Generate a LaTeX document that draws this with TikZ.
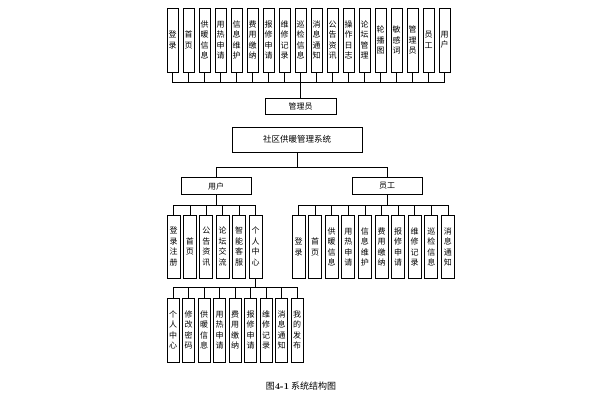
\documentclass[tikz,border=0pt]{standalone}
\usepackage{fontspec}
\newfontfamily\cjk{Noto Sans CJK SC}
\begin{document}
\begin{tikzpicture}[x=1pt,y=-1pt,
  box/.style={draw, line width=0.8pt, inner sep=0pt, align=center,
    font=\cjk\fontsize{8}{10.5}\selectfont},
  vboxA/.style={box, minimum width=11pt, minimum height=64pt},
  vboxB/.style={box, minimum width=13pt, minimum height=63pt},
  vboxC/.style={box, minimum width=12pt, minimum height=64pt},
  hbox/.style={box, minimum width=70pt, minimum height=16.5pt},
  conn/.style={line width=0.8pt}]
\useasboundingbox (0,0) rectangle (603,401);
% top row
\foreach \t [count=\i from 0] in {登\\录,首\\页,供\\暖\\信\\息,用\\热\\申\\请,信\\息\\维\\护,费\\用\\缴\\纳,报\\修\\申\\请,维\\修\\记\\录,巡\\检\\信\\息,消\\息\\通\\知,公\\告\\资\\讯,操\\作\\日\\志,论\\坛\\管\\理,轮\\播\\图,敏\\感\\词,管\\理\\员,员\\工,用\\户}
  \node[vboxA] (t\i) at ({172.5+16*\i},40) {\t};
\node[hbox, minimum width=71pt] (admin) at (300.5,106.5) {管理员};
\node[box, minimum width=130pt, minimum height=25pt, font=\cjk\fontsize{8.5}{10}\selectfont] (sys) at (297,139.5) {社区供暖管理系统};
\node[hbox] (user) at (216,186) {用户};
\node[hbox] (emp) at (387,186) {员工};
% user children
\foreach \t [count=\i from 0] in {登\\录\\注\\册,首\\页,公\\告\\资\\讯,论\\坛\\交\\流,智\\能\\客\\服,个\\人\\中\\心}
  \node[vboxB] (u\i) at ({173.5+16.4*\i},246.5) {\t};
% employee children
\foreach \t [count=\i from 0] in {登\\录,首\\页,供\\暖\\信\\息,用\\热\\申\\请,信\\息\\维\\护,费\\用\\缴\\纳,报\\修\\申\\请,维\\修\\记\\录,巡\\检\\信\\息,消\\息\\通\\知}
  \node[vboxB] (e\i) at ({298.5+16.6*\i},247) {\t};
% personal centre children
\foreach \t [count=\i from 0] in {个\\人\\中\\心,修\\改\\密\\码,供\\暖\\信\\息,用\\热\\申\\请,费\\用\\缴\\纳,报\\修\\申\\请,维\\修\\记\\录,消\\息\\通\\知,我\\的\\发\\布}
  \node[vboxC] (p\i) at ({173+15.5*\i},330) {\t};
% bus coordinates
\coordinate (bus0) at (0,82);
\coordinate (bus1) at (0,167);
\coordinate (bus2) at (0,205);
\coordinate (bus3) at (0,287);
% connectors
\foreach \i in {0,...,17}
  \draw[conn] (admin.north) -- (admin.north |- bus0) -| (t\i.south);
\draw[conn] (sys.south) -- (sys.south |- bus1) -| (user.north);
\draw[conn] (sys.south) -- (sys.south |- bus1) -| (emp.north);
\foreach \i in {0,...,5}
  \draw[conn] (user.south) -- (user.south |- bus2) -| (u\i.north);
\foreach \i in {0,...,9}
  \draw[conn] (emp.south) -- (emp.south |- bus2) -| (e\i.north);
\foreach \i in {0,...,8}
  \draw[conn] (u5.south) -- (u5.south |- bus3) -| (p\i.north);
% caption
\node[inner sep=0pt, font=\cjk\fontsize{9}{10}\selectfont] (cap) at (301,386) {图{\rmfamily\bfseries 4-1} 系统结构图};
\end{tikzpicture}
\end{document}
